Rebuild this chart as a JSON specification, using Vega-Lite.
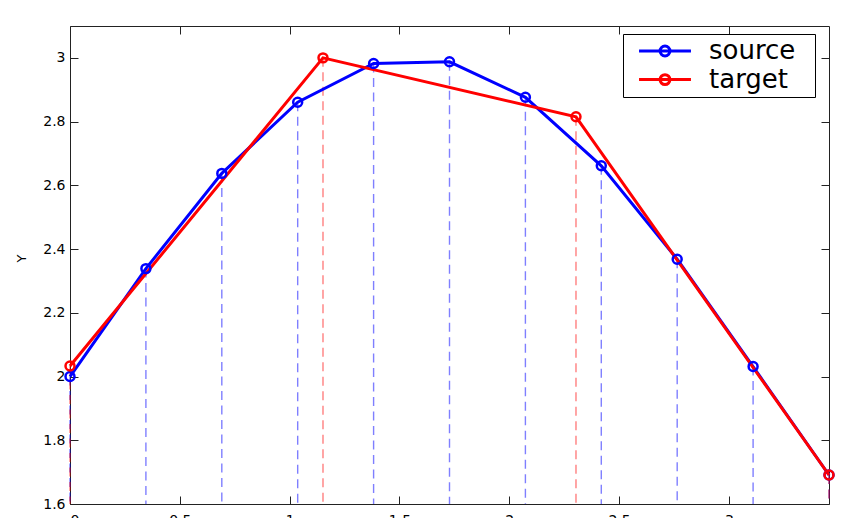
{
  "$schema": "https://vega.github.io/schema/vega-lite/v6.json",
  "autosize": "none",
  "width": 759,
  "height": 478,
  "padding": {"left": 70, "top": 26, "right": 39, "bottom": 14},
  "background": "white",
  "data": {
    "values": [
      {"x": 0.0, "y": 2.0, "series": "source"},
      {"x": 0.3456, "y": 2.3387, "series": "source"},
      {"x": 0.6912, "y": 2.6375, "series": "source"},
      {"x": 1.0367, "y": 2.8607, "series": "source"},
      {"x": 1.3823, "y": 2.9823, "series": "source"},
      {"x": 1.7279, "y": 2.9877, "series": "source"},
      {"x": 2.0735, "y": 2.8763, "series": "source"},
      {"x": 2.419, "y": 2.6613, "series": "source"},
      {"x": 2.7646, "y": 2.3681, "series": "source"},
      {"x": 3.1102, "y": 2.0314, "series": "source"},
      {"x": 3.4558, "y": 1.691, "series": "source"},
      {"x": 0.0, "y": 2.033, "series": "target"},
      {"x": 1.1519, "y": 3.0, "series": "target"},
      {"x": 2.3038, "y": 2.815, "series": "target"},
      {"x": 3.4558, "y": 1.691, "series": "target"}
    ]
  },
  "layer": [
    {
      "transform": [{"filter": "datum.series === 'source'"}],
      "mark": {"type": "rule", "stroke": "#0000ff", "opacity": 0.5, "strokeWidth": 1.4, "strokeDash": [9, 5.5]},
      "encoding": {
        "x": {"field": "x", "type": "quantitative", "scale": {"domain": [0, 3.4558], "nice": false, "zero": false},
              "axis": {"orient": "bottom", "values": [0, 0.5, 1, 1.5, 2, 2.5, 3], "format": "~g", "title": null, "labelPadding": 17}},
        "y": {"field": "y", "type": "quantitative", "scale": {"domain": [1.6, 3.1], "nice": false, "zero": false},
              "axis": {"orient": "left", "values": [1.6, 1.8, 2.0, 2.2, 2.4, 2.6, 2.8, 3.0], "format": "~g", "title": "Y", "labelPadding": 13, "titlePadding": 14, "titleY": 232}},
        "y2": {"datum": 1.6}
      }
    },
    {
      "transform": [{"filter": "datum.series === 'target'"}],
      "mark": {"type": "rule", "stroke": "#ff0000", "opacity": 0.5, "strokeWidth": 1.4, "strokeDash": [9, 5.5]},
      "encoding": {
        "x": {"field": "x", "type": "quantitative",
              "axis": {"orient": "top", "values": [0, 0.5, 1, 1.5, 2, 2.5, 3], "labels": false, "title": null}},
        "y": {"field": "y", "type": "quantitative",
              "axis": {"orient": "right", "values": [1.6, 1.8, 2.0, 2.2, 2.4, 2.6, 2.8, 3.0], "labels": false, "title": null}},
        "y2": {"datum": 1.6}
      }
    },
    {
      "mark": {"type": "line", "strokeWidth": 3},
      "encoding": {
        "x": {"field": "x", "type": "quantitative", "axis": null},
        "y": {"field": "y", "type": "quantitative", "axis": null},
        "color": {"field": "series", "type": "nominal",
                  "scale": {"domain": ["source", "target"], "range": ["#0000ff", "#ff0000"]},
                  "legend": {"orient": "none", "legendX": 553, "legendY": 8, "title": null,
                             "symbolType": "M-2.36,0L2.36,0M-0.45,0A0.45,0.45,0,1,1,0.45,0A0.45,0.45,0,1,1,-0.45,0M12.65,0",
                             "symbolSize": 484, "symbolStrokeWidth": 3, "symbolFillColor": "transparent",
                             "labelFontSize": 26, "labelFont": "DejaVu Sans", "labelColor": "black",
                             "strokeColor": "black", "fillColor": "white", "padding": 4, "rowPadding": 2.6,
                             "symbolOffset": 25, "labelOffset": 31}}
      }
    },
    {
      "transform": [{"filter": "datum.series === 'source'"}],
      "mark": {"type": "point", "shape": "circle", "filled": false, "stroke": "#0000ff", "strokeWidth": 2.5, "size": 80, "opacity": 1},
      "encoding": {
        "x": {"field": "x", "type": "quantitative", "axis": null},
        "y": {"field": "y", "type": "quantitative", "axis": null}
      }
    },
    {
      "transform": [{"filter": "datum.series === 'target'"}],
      "mark": {"type": "point", "shape": "circle", "filled": false, "stroke": "#ff0000", "strokeWidth": 2.5, "size": 80, "opacity": 1},
      "encoding": {
        "x": {"field": "x", "type": "quantitative", "axis": null},
        "y": {"field": "y", "type": "quantitative", "axis": null}
      }
    }
  ],
  "resolve": {"axis": {"x": "independent", "y": "independent"}},
  "config": {
    "view": {"stroke": "#222222", "strokeWidth": 1},
    "axis": {"domain": false, "grid": false, "tickColor": "#222222", "tickSize": -8, "tickWidth": 1,
             "labelFont": "DejaVu Sans", "labelFontSize": 14, "labelColor": "black",
             "titleFont": "DejaVu Sans", "titleFontSize": 13, "titleFontWeight": "normal", "titleColor": "black"}
  }
}
